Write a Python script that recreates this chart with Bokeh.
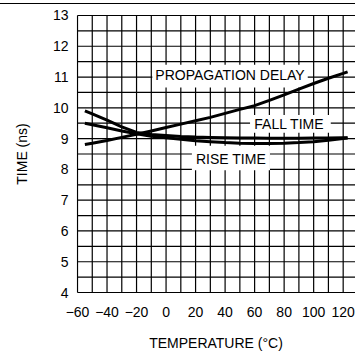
from bokeh.plotting import figure
from bokeh.models import FixedTicker, Div
from bokeh.layouts import column
from bokeh.core.properties import value
from bokeh.embed import file_html
from bokeh.resources import INLINE

# ---- data ----
temperature = [-55, -50, -40, -30, -20, -10, 0, 10, 20, 30, 40, 50, 60, 70, 80, 90, 100, 110, 120, 123]
propagation_delay = [8.81, 8.85, 8.94, 9.04, 9.14, 9.25, 9.36, 9.47, 9.58, 9.69, 9.82, 9.95, 10.07, 10.24,
                     10.42, 10.61, 10.79, 10.96, 11.12, 11.17]
fall_time = [9.90, 9.80, 9.60, 9.38, 9.20, 9.13, 9.10, 9.07, 9.05, 9.04, 9.03, 9.02, 9.02, 9.01,
             9.01, 9.01, 9.02, 9.02, 9.03, 9.03]
rise_time = [9.50, 9.45, 9.35, 9.25, 9.16, 9.08, 9.03, 8.98, 8.93, 8.90, 8.87, 8.85, 8.84, 8.84,
             8.85, 8.87, 8.90, 8.95, 9.00, 9.02]

x_ticks = [-60, -40, -20, 0, 20, 40, 60, 80, 100, 120]
x_tick_labels = ["\u221260", "\u221240", "\u221220", "0", "20", "40", "60", "80", "100", "120"]
y_ticks = [4, 5, 6, 7, 8, 9, 10, 11, 12, 13]
x_grid = [-60, -50, -40, -30, -20, -10, 0, 10, 20, 30, 40, 50, 60, 70, 80, 90, 100, 110, 120, 130]
y_grid = [4, 4.5, 5, 5.5, 6, 6.5, 7, 7.5, 8, 8.5, 9, 9.5, 10, 10.5, 11, 11.5, 12, 12.5, 13]

curve_labels = ["PROPAGATION DELAY", "FALL TIME", "RISE TIME"]

# ---- layout of the label boxes (positions, not data) ----
box_left = [-9.3, 56.9, 17.5]
box_right = [96.0, 111.6, 70.4]
box_bottom = [10.66, 9.19, 7.97]
box_top = [11.40, 9.77, 8.77]
text_x = [43.3, 83.5, 44.0]
text_y = [11.06, 9.48, 8.33]

FONT = "Liberation Sans"

top_rule = Div(text="", width=355, height=4, margin=0,
               styles={"border-bottom": "1.5px solid black", "box-sizing": "border-box"})

p = figure(width=355, height=349, output_backend="svg", toolbar_location=None,
           x_range=(-60.68, 128.35), y_range=(3.968, 13.032), margin=0)
p.min_border_left = 76
p.min_border_right = 0
p.min_border_top = 10
p.min_border_bottom = 56
p.outline_line_color = None
p.background_fill_color = "white"
p.border_fill_color = "white"
p.xgrid.visible = False
p.ygrid.visible = False

# grid drawn from tick arrays
p.segment(x0=x_grid, x1=x_grid, y0=[min(y_grid)] * len(x_grid), y1=[max(y_grid)] * len(x_grid),
          line_color="black", line_width=1.2)
p.segment(x0=[min(x_grid)] * len(y_grid), x1=[140] * len(y_grid), y0=y_grid, y1=y_grid,
          line_color="black", line_width=1.2)

# white label boxes
p.quad(left=box_left, right=box_right, bottom=box_bottom, top=box_top,
       fill_color="white", line_color=None)

# curves
for series in (propagation_delay, fall_time, rise_time):
    p.line(temperature, series, line_color="black", line_width=3)

# curve labels
p.text(x=text_x, y=text_y, text=curve_labels, text_font=value(FONT), text_font_size="14px",
       text_align="center", text_baseline="middle", text_color="black")

# axes
p.xaxis.ticker = FixedTicker(ticks=x_ticks)
p.xaxis.major_label_overrides = {t: l for t, l in zip(x_ticks, x_tick_labels)}
p.yaxis.ticker = FixedTicker(ticks=y_ticks)
for ax in (p.xaxis[0], p.yaxis[0]):
    ax.axis_line_color = None
    ax.major_tick_line_color = None
    ax.minor_tick_line_color = None
    ax.major_tick_out = 0
    ax.major_tick_in = 0
    ax.major_label_text_font = FONT
    ax.major_label_text_font_size = "14px"
    ax.major_label_text_color = "black"
    ax.axis_label_text_font = FONT
    ax.axis_label_text_font_size = "14px"
    ax.axis_label_text_font_style = "normal"
    ax.axis_label_text_color = "black"
p.xaxis.axis_label = "TEMPERATURE (\u00b0C)"
p.yaxis.axis_label = "TIME (ns)"
p.xaxis.major_label_standoff = 13
p.yaxis.major_label_standoff = 8
p.xaxis.axis_label_standoff = 15
p.yaxis.axis_label_standoff = 20

layout = column(top_rule, p, spacing=0, margin=0)
open("out.html", "w").write(file_html(layout, INLINE))
